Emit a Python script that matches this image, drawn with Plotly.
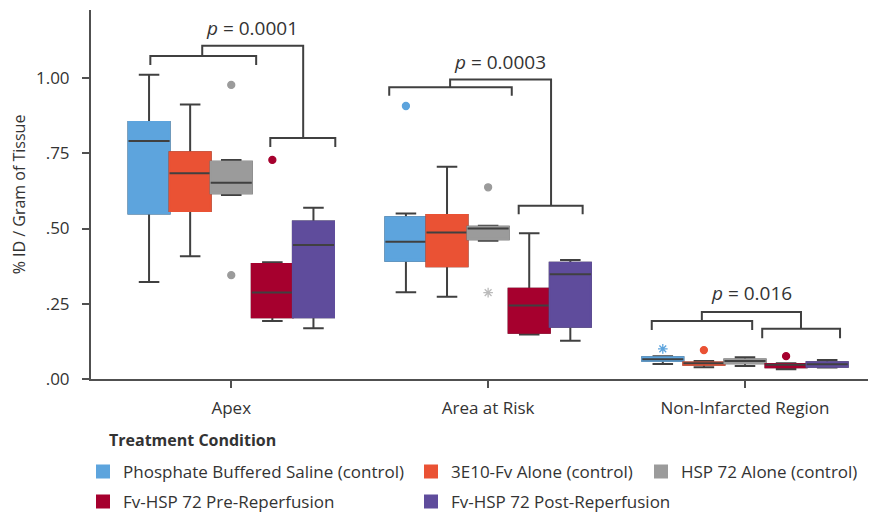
import plotly.graph_objects as go

# ---------------- data ----------------
categories = ["Apex", "Area at Risk", "Non-Infarcted Region"]
series_names = [
    "Phosphate Buffered Saline (control)",
    "3E10-Fv Alone (control)",
    "HSP 72 Alone (control)",
    "Fv-HSP 72 Pre-Reperfusion",
    "Fv-HSP 72 Post-Reperfusion",
]
colors = ["#5DA4DD", "#EA5234", "#9B9B9B", "#A6002E", "#5F4C9C"]

# per series: values for [Apex, Area at Risk, Non-Infarcted Region]
lowerfence = [
    [0.322, 0.288, 0.050],
    [0.408, 0.273, 0.039],
    [0.611, 0.459, 0.043],
    [0.193, 0.148, 0.032],
    [0.169, 0.127, 0.038],
]
q1 = [
    [0.550, 0.393, 0.061],
    [0.558, 0.375, 0.047],
    [0.617, 0.464, 0.052],
    [0.205, 0.154, 0.039],
    [0.205, 0.174, 0.041],
]
median = [
    [0.791, 0.456, 0.066],
    [0.684, 0.487, 0.052],
    [0.652, 0.500, 0.060],
    [0.287, 0.244, 0.047],
    [0.445, 0.348, 0.049],
]
q3 = [
    [0.854, 0.537, 0.072],
    [0.753, 0.545, 0.055],
    [0.722, 0.506, 0.065],
    [0.382, 0.300, 0.050],
    [0.523, 0.386, 0.056],
]
upperfence = [
    [1.011, 0.550, 0.076],
    [0.912, 0.705, 0.060],
    [0.728, 0.509, 0.072],
    [0.388, 0.484, 0.052],
    [0.569, 0.395, 0.063],
]

# outliers: series index, category index, value, symbol
outlier_series = [2, 2, 3, 0, 2, 2, 0, 1, 3]
outlier_category = [0, 0, 0, 1, 1, 1, 2, 2, 2]
outlier_values = [0.977, 0.345, 0.728, 0.907, 0.637, 0.287, 0.100, 0.096, 0.076]
outlier_symbols = ["circle", "circle", "circle", "circle", "circle",
                   "asterisk-open", "asterisk-open", "circle", "circle"]

# significance brackets (x in category units, y in data units)
p_labels = ["<i>p</i> = 0.0001", "<i>p</i> = 0.0003", "<i>p</i> = 0.016"]
p_label_pos = [(0.082, 1.166), (1.047, 1.054), (2.026, 0.285)]
left_brackets = [(-0.315, 0.097, 1.073, 1.043), (0.615, 1.092, 0.969, 0.941), (1.637, 2.028, 0.193, 0.163)]
connectors = [(-0.113, 1.107, 0.280), (0.852, 0.995, 1.245), (1.832, 0.223, 2.218)]
right_brackets = [(0.152, 0.405, 0.801, 0.771), (1.119, 1.368, 0.576, 0.547), (2.067, 2.370, 0.167, 0.135)]

DARK = "#404040"
TEXT = "#333333"
FONT = "Open Sans"
GROUPGAP = 0.2
NSER = len(series_names)
BOX_W = (1 - GROUPGAP) / NSER
PAGE_OFFSET = 8  # the html body margin shifts the figure by this many pixels


def box_x(cat, s):
    return cat - (1 - GROUPGAP) / 2 + BOX_W * (s + 0.5)


fig = go.Figure()
cats_idx = list(range(len(categories)))
legend_ids = ["legend", "legend2", "legend3", "legend4", "legend5"]

for i in range(NSER):
    xs = [box_x(c, i) for c in cats_idx]
    common = dict(x=xs, width=BOX_W, hoverinfo="skip")
    # layer A: dark whiskers / outline
    fig.add_trace(go.Box(
        q1=q1[i], median=median[i], q3=q3[i],
        lowerfence=lowerfence[i], upperfence=upperfence[i],
        fillcolor="rgba(0,0,0,0)", line=dict(color=DARK, width=2),
        whiskerwidth=0.5, showlegend=False, **common,
    ))
    # layer B: coloured box body
    fig.add_trace(go.Box(
        q1=q1[i], median=q1[i], q3=q3[i],
        lowerfence=q1[i], upperfence=q3[i],
        fillcolor=colors[i], line=dict(color=colors[i], width=2),
        whiskerwidth=0, name=series_names[i],
        showlegend=True, legend=legend_ids[i], **common,
    ))
    # layer C: dark median line
    fig.add_trace(go.Box(
        q1=median[i], median=median[i], q3=median[i],
        lowerfence=median[i], upperfence=median[i],
        fillcolor="rgba(0,0,0,0)", line=dict(color=DARK, width=2),
        whiskerwidth=0, showlegend=False, **common,
    ))

# outliers positioned at the box centres
for s, c, v, sym in zip(outlier_series, outlier_category, outlier_values, outlier_symbols):
    col = colors[s]
    if s == 2 and sym != "circle":
        col = "#BBBBBB"
    fig.add_trace(go.Scatter(
        x=[box_x(c, s)], y=[v], mode="markers", showlegend=False, hoverinfo="skip",
        marker=dict(symbol=sym, size=7 if sym == "circle" else 8, color=col,
                    line=dict(width=1.3, color=col)),
    ))

# brackets
shapes = []
for (lx0, lx1, ly, lleg), (cx, cy, rx_), (rx0, rx1, ry, rleg) in zip(left_brackets, connectors, right_brackets):
    path_l = f"M {lx0},{lleg} L {lx0},{ly} L {lx1},{ly} L {lx1},{lleg}"
    path_r = f"M {rx0},{rleg} L {rx0},{ry} L {rx1},{ry} L {rx1},{rleg}"
    path_c = f"M {cx},{ly} L {cx},{cy} L {rx_},{cy} L {rx_},{ry}"
    for p in (path_l, path_r, path_c):
        shapes.append(dict(type="path", path=p, xref="x", yref="y",
                           line=dict(color=DARK, width=2)))

# plot area in window pixels: x 91..876, y 10..379
PX0, PX1, PY0, PY1 = 91, 876, 10, 379


def paper_x(px):
    return (px - PX0) / (PX1 - PX0)


def paper_y(py):
    return (PY1 - py) / (PY1 - PY0)


annotations = []
for txt, (px, py) in zip(p_labels, p_label_pos):
    annotations.append(dict(x=px, y=py, xref="x", yref="y", text=txt, showarrow=False,
                            font=dict(family=FONT, size=19, color=TEXT)))

annotations.append(dict(x=paper_x(107), y=paper_y(440), xref="paper", yref="paper",
                        xanchor="left", yanchor="middle", showarrow=False,
                        text="<b>Treatment Condition</b>",
                        font=dict(family=FONT, size=16, color=TEXT)))

legend_font = dict(family=FONT, size=17, color=TEXT)
legend_pos = [(83, 472), (411, 472), (641, 472), (83, 502), (411, 502)]
layout_legends = {}
for lid, (lx, ly) in zip(legend_ids, legend_pos):
    layout_legends[lid] = dict(
        x=paper_x(lx), y=paper_y(ly), xanchor="left", yanchor="middle",
        xref="paper", yref="paper", font=legend_font, bgcolor="rgba(0,0,0,0)",
        borderwidth=0, orientation="h",
    )

W, H = 876 - PAGE_OFFSET, 512 - PAGE_OFFSET
fig.update_layout(
    width=W, height=H,
    margin=dict(l=PX0 - PAGE_OFFSET, r=0, t=PY0 - PAGE_OFFSET, b=H - (PY1 - PAGE_OFFSET),
                autoexpand=False),
    paper_bgcolor="white", plot_bgcolor="white",
    boxmode="overlay",
    font=dict(family=FONT, color=TEXT),
    shapes=shapes, annotations=annotations,
    **layout_legends,
)

fig.update_xaxes(
    range=[-0.546, 2.51], tickvals=cats_idx, ticktext=categories,
    showline=True, linecolor="#505050", linewidth=2,
    ticks="outside", ticklen=7, tickwidth=2, tickcolor="#505050",
    showgrid=False, zeroline=False, ticklabelstandoff=6,
    tickfont=dict(family=FONT, size=17, color=TEXT),
)
fig.update_yaxes(
    range=[0, 1.226], tickvals=[0, 0.25, 0.5, 0.75, 1.0],
    ticktext=[".00", ".25", ".50", ".75", "1.00"],
    showline=True, linecolor="#505050", linewidth=2,
    ticks="outside", ticklen=7, tickwidth=2, tickcolor="#505050",
    showgrid=False, zeroline=False, ticklabelstandoff=9,
    tickfont=dict(family=FONT, size=17, color=TEXT),
    title=dict(text="% ID / Gram of Tissue", font=dict(family=FONT, size=16, color=TEXT), standoff=7),
)

fig.write_html("out.html")
